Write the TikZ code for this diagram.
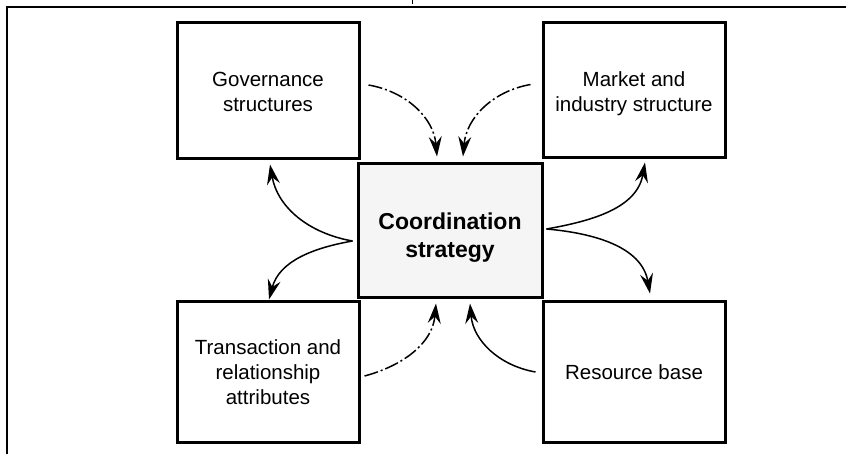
\documentclass[tikz,border=0pt]{standalone}
\usepackage{fontspec}
\setmainfont{Liberation Sans}
\usetikzlibrary{arrows.meta,calc}

% lowers a block of centred lines without changing the room it takes
\newcommand{\boxlines}[2][0pt]{\raisebox{#1}[\height][\depth]{\begin{tabular}{@{}c@{}}#2\end{tabular}}}

\begin{document}
\begin{tikzpicture}[x=1pt,y=-1pt,
  factorbox/.style={draw, line width=3pt, minimum width=182pt, align=center,
    font=\fontsize{20.5}{25}\selectfont, inner sep=0pt},
  hubbox/.style={draw, line width=3pt, fill=black!4, minimum width=184pt,
    minimum height=134pt, align=center, font=\bfseries\fontsize{23}{28}\selectfont,
    inner sep=0pt},
  tip/.style={-{Stealth[length=20pt,width=13pt,inset=7pt]}},
  influence/.style={tip, line width=1.5pt, dash pattern={on 14pt off 3pt on 2pt off 3pt}},
  effect/.style={tip, line width=1.5pt}]

\useasboundingbox (0,0) rectangle (846,454);

% frame of the figure
\draw[line width=2pt] (7,454) -- (7,7) -- (846,7);
\draw[line width=1pt] (412,0) -- (412,4);

% boxes
\node[factorbox, minimum height=136pt] (gov) at (268,91)
  {\boxlines[-3.5pt]{Governance\\structures}};
\node[factorbox, minimum height=135pt] (market) at (634,90.5)
  {\boxlines[-4pt]{Market and\\industry structure}};
\node[hubbox] (coord) at (450,231)
  {\boxlines[-7pt]{Coordination\\[0pt]strategy}};
\node[factorbox, minimum height=140pt] (trans) at (268,372)
  {Transaction and\\relationship\\attributes};
\node[factorbox, minimum height=140pt] (res) at (634,372) {Resource base};

% influences on the coordination strategy
\draw[influence] ($(gov.east)+(8,-6)$) to[out=-10,in=95] ($(coord.north)+(-13,-6)$);
\draw[influence] ($(market.west)+(-11,-6)$) to[out=190,in=85] ($(coord.north)+(13,-6)$);
\draw[influence] ($(trans.east)+(4,4)$) to[out=15,in=-95] ($(coord.south)+(-14,4)$);
\draw[effect] ($(res.west)+(-6,0)$) to[out=170,in=-85] ($(coord.south)+(20,4)$);

% effects of the coordination strategy
\draw[effect] ($(coord.west)+(-4,10)$) to[out=170,in=-80] ($(gov.south)+(2,4)$);
\draw[effect] ($(coord.west)+(-4,10)$) to[out=190,in=75] ($(trans.north)+(1,-1)$);
\draw[effect] ($(coord.east)+(3,-2)$) to[out=10,in=-100] ($(market.south)+(11,3)$);
\draw[effect] ($(coord.east)+(3,-2)$) to[out=-5,in=100] ($(res.north)+(16,-7)$);

\end{tikzpicture}
\end{document}
